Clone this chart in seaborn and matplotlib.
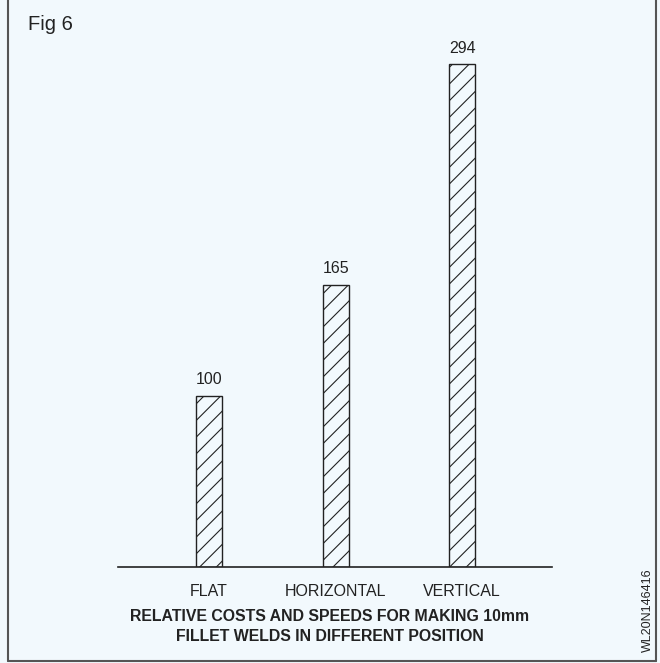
import matplotlib
matplotlib.use("Agg")
import matplotlib.pyplot as plt
import seaborn as sns
import pandas as pd

# Relative cost of 10 mm fillet welds by welding position
positions = ["FLAT", "HORIZONTAL", "VERTICAL"]
relative_cost = [100, 165, 294]

sns.set_theme(style="white")
plt.rcParams["font.family"] = ["Liberation Sans", "DejaVu Sans"]
plt.rcParams["hatch.linewidth"] = 0.8
plt.rcParams["hatch.color"] = "#222222"

bg = "#f2f9fd"
ink = "#222222"

fig = plt.figure(figsize=(6.6, 6.63), dpi=100, facecolor=bg)

ax = fig.add_axes([118 / 660, 96 / 663, 434 / 660, 513 / 663])
ax.set_facecolor("none")

df = pd.DataFrame({"position": positions, "cost": relative_cost})
sns.barplot(data=df, x="position", y="cost", ax=ax, width=0.206,
            color="none", edgecolor=ink, linewidth=1.0, hatch="//")
for patch in ax.patches:
    patch.set_facecolor("none")
    patch.set_edgecolor(ink)

ax.set_xlim(-0.72, 2.71)
ax.set_ylim(0, 300)

for i, v in enumerate(relative_cost):
    ax.text(i, v + 5, str(v), ha="center", va="bottom", fontsize=11.5, color=ink)

for side in ["top", "right", "left"]:
    ax.spines[side].set_visible(False)
ax.spines["bottom"].set_color(ink)
ax.spines["bottom"].set_linewidth(1.2)
ax.set_yticks([])
ax.tick_params(axis="x", length=0, pad=12, labelsize=11.5, labelcolor=ink)
ax.set_xlabel("")
ax.set_ylabel("")

fig.text(0.5, 1 - 626.5 / 663,
         "RELATIVE COSTS AND SPEEDS FOR MAKING 10mm\nFILLET WELDS IN DIFFERENT POSITION",
         ha="center", va="center", fontsize=11.4, fontweight="bold",
         color=ink, linespacing=1.4)

fig.text(28 / 660, 1 - 25 / 663, "Fig 6", ha="left", va="center",
         fontsize=14.5, color=ink)
fig.text(648 / 660, 1 - 610 / 663, "WL20N146416", rotation=90,
         ha="center", va="center", fontsize=9, color=ink)

# figure frame
frame_kw = dict(color="#555555", linewidth=1.5, transform=fig.transFigure)
fig.add_artist(plt.Line2D([7.5 / 660, 7.5 / 660], [0.003, 1], **frame_kw))
fig.add_artist(plt.Line2D([655.5 / 660, 655.5 / 660], [0.003, 1], **frame_kw))
fig.add_artist(plt.Line2D([7.5 / 660, 655.5 / 660], [0.003, 0.003], **frame_kw))

fig.savefig("out.png", dpi=100, facecolor=bg)
